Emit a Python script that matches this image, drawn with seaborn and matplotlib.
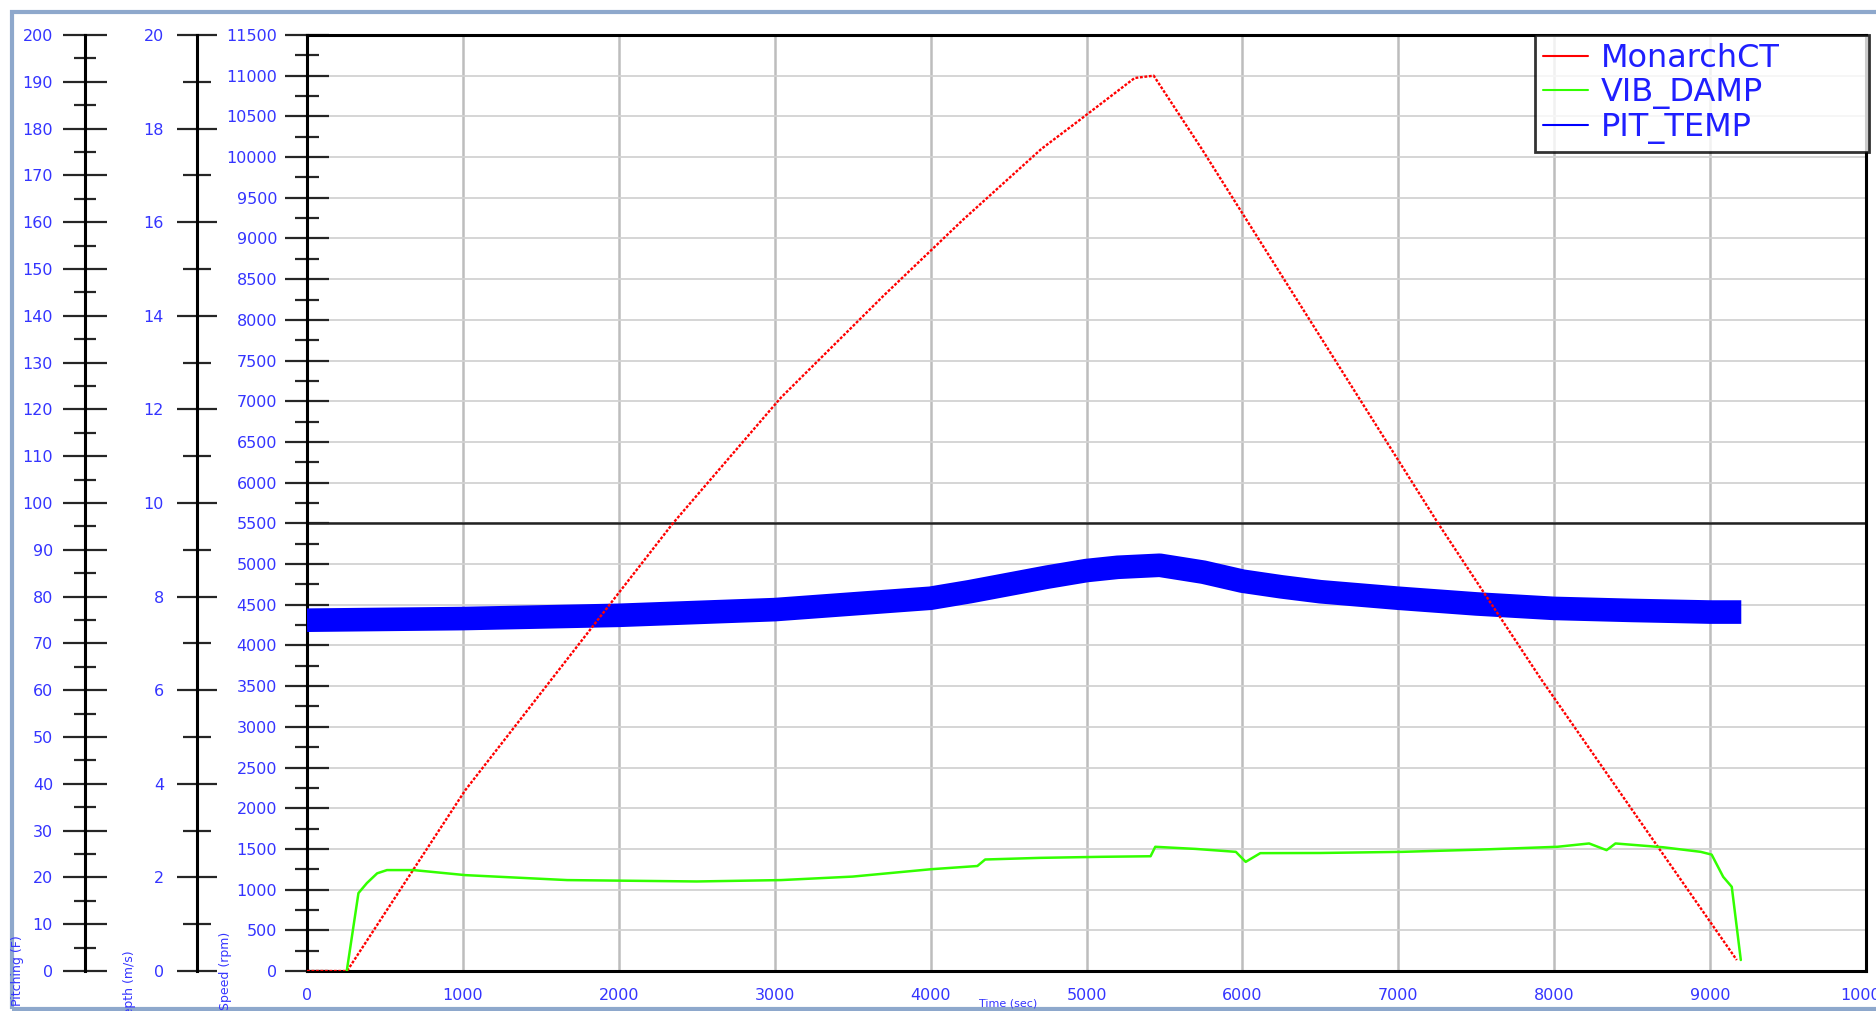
import numpy as np
import matplotlib
matplotlib.use("Agg")
import matplotlib.pyplot as plt
from matplotlib.lines import Line2D
from matplotlib.patches import Rectangle
from matplotlib.ticker import MultipleLocator
import seaborn as sns

# data (main axis units)
monarch_x = [0, 257, 1015, 2346, 3040, 3700, 4208, 4711, 4949, 5309, 5431, 5739, 7256, 7912, 9171]
monarch_y = [0, 0, 2221, 5498, 7045, 8300, 9230, 10101, 10445, 10972, 11000, 10101, 5498, 3596, 135]

vib_x = [255, 330, 384, 450, 513, 683, 1015, 1669, 2500, 3040, 3500, 4000, 4300, 4350, 4700,
         5096, 5411, 5441, 5700, 5958, 6021, 6115, 6500, 7025, 7500, 8020, 8224, 8336, 8393,
         8700, 8940, 9010, 9084, 9139, 9197]
vib_y = [0, 957, 1080, 1200, 1240, 1240, 1178, 1117, 1100, 1117, 1160, 1250, 1290, 1370, 1390,
         1403, 1410, 1526, 1500, 1464, 1341, 1448, 1450, 1464, 1490, 1526, 1567, 1485, 1567,
         1520, 1464, 1430, 1157, 1034, 135]

pit_x = [0, 1000, 2000, 3000, 4000, 4250, 4500, 4750, 5000, 5200, 5470, 5750, 6000, 6250,
         6500, 7000, 7500, 8000, 8500, 9000, 9200]
pit_y = [4310, 4330, 4370, 4440, 4580, 4660, 4750, 4840, 4920, 4960, 4985, 4900, 4790, 4720,
         4660, 4580, 4510, 4455, 4430, 4410, 4410]

ref_level = 5500
labels = ["MonarchCT", "VIB_DAMP", "PIT_TEMP"]
colors = ["#ff0000", "#33ff00", "#0000ff"]
tick_blue = "#3434ff"

sns.set_style("white")
plt.rcParams["font.family"] = ["DejaVu Sans"]

W, H = 1876, 1011
fig = plt.figure(figsize=(W / 100, H / 100), dpi=100)
L, R, T, B = 307, 1866, 35, 971
ax = fig.add_axes([L / W, 1 - B / H, (R - L) / W, (B - T) / H])

# lines
sns.lineplot(x=pit_x, y=pit_y, ax=ax, color=colors[2], linewidth=17, legend=False,
             estimator=None, sort=False, zorder=3, solid_capstyle="butt")
sns.lineplot(x=monarch_x, y=monarch_y, ax=ax, color=colors[0], linewidth=1.7,
             linestyle=(0, (1.2, 0.7)), legend=False, estimator=None, sort=False, zorder=4)
sns.lineplot(x=vib_x, y=vib_y, ax=ax, color=colors[1], linewidth=1.8, legend=False,
             estimator=None, sort=False, zorder=4)
ax.axhline(ref_level, color="#222222", lw=1.8, zorder=2)

ax.set_xlim(0, 10000)
ax.set_ylim(0, 11500)
ax.xaxis.set_major_locator(MultipleLocator(1000))
ax.xaxis.set_minor_locator(MultipleLocator(500))
ax.yaxis.set_major_locator(MultipleLocator(500))
ax.yaxis.set_minor_locator(MultipleLocator(250))
ax.grid(True, which="major", axis="y", color="#d2d2d2", lw=1.3, zorder=0)
ax.grid(True, which="major", axis="x", color="#bdbdbd", lw=1.8, zorder=0)
ax.set_axisbelow(True)
for s in ax.spines.values():
    s.set_color("black")
    s.set_linewidth(2.2)

ax.tick_params(axis="y", which="major", direction="inout", length=31, width=1.6,
               labelcolor=tick_blue, labelsize=11.5, pad=6)
ax.tick_params(axis="y", which="minor", direction="inout", length=17, width=1.6)
ax.tick_params(axis="x", which="major", direction="inout", length=20, width=1.6,
               labelcolor=tick_blue, labelsize=11.5, pad=2)
ax.tick_params(axis="x", which="minor", direction="inout", length=13, width=1.6)
ax.set_xlabel("")
ax.set_ylabel("")


def extra_axis(offset_px, top, major, minor, maj_len, min_len, pad):
    a = ax.twinx()
    a.set_ylim(0, top)
    a.yaxis.set_ticks_position("left")
    a.yaxis.set_label_position("left")
    for name in ["top", "right", "bottom"]:
        a.spines[name].set_visible(False)
    a.spines["left"].set_position(("axes", offset_px / (R - L)))
    a.spines["left"].set_linewidth(2.2)
    a.spines["left"].set_color("black")
    a.yaxis.set_major_locator(MultipleLocator(major))
    a.yaxis.set_minor_locator(MultipleLocator(minor))
    a.tick_params(axis="y", which="major", direction="inout", length=maj_len, width=1.6,
                  labelcolor=tick_blue, labelsize=11.5, pad=pad)
    a.tick_params(axis="y", which="minor", direction="inout", length=min_len, width=1.6)
    a.grid(False)
    return a


ax1 = extra_axis(-222, 200, 10, 5, 32, 16.5, 7)
ax2 = extra_axis(-110, 20, 2, 1, 29.5, 19.5, 9)

# axis titles (small, mostly cut at the bottom)
fig.text(18 / W, 1 - 935 / H, "Pitching (F)", rotation=90, ha="center", va="top",
         color=tick_blue, fontsize=9)
fig.text(130 / W, 1 - 950 / H, "Depth (m/s)", rotation=90, ha="center", va="top",
         color=tick_blue, fontsize=9)
fig.text(225 / W, 1 - 932 / H, "Speed (rpm)", rotation=90, ha="center", va="top",
         color=tick_blue, fontsize=9)
fig.text(1008 / W, 1 - 1003 / H, "Time (sec)", ha="center", va="center",
         color=tick_blue, fontsize=8)

handles = [Line2D([], [], color=c, lw=1.5) for c in colors]
leg_w = 334 / (R - L)
leg = ax.legend(handles, labels, loc="upper right",
                bbox_to_anchor=(1.002 - leg_w, 0.0, leg_w, 1.0), mode="expand",
                borderaxespad=0, fontsize=23, labelcolor="#1f1fff", frameon=True,
                fancybox=False, handlelength=1.4, handletextpad=0.4, labelspacing=0.1,
                borderpad=0.25)
leg.get_frame().set_edgecolor("black")
leg.get_frame().set_linewidth(2)
leg.set_zorder(10)

# window frame around the picture
fig.patches.append(Rectangle((12 / W, 1 - 1009 / H), 1.0, (1009 - 12) / H,
                             transform=fig.transFigure, fill=False,
                             edgecolor="#8ea8cc", lw=3))

fig.savefig("out.png", dpi=100)
